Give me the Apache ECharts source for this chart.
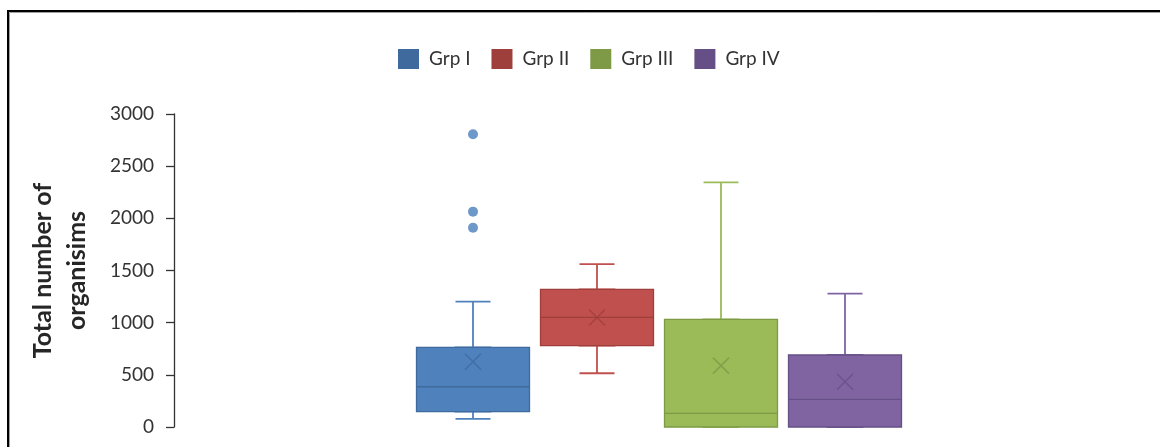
<!DOCTYPE html>
<html><head><meta charset="utf-8">
<script src="https://cdn.jsdelivr.net/npm/echarts@6/dist/echarts.min.js"></script>
<style>html,body{margin:0;padding:0;background:#fff}#c{width:1160px;height:447px}</style>
</head><body><div id="c"></div>
<script>
const categories = ['Grp I', 'Grp II', 'Grp III', 'Grp IV'];
const minVals = [77, 515, 0, 0];
const q1Vals = [147, 779, 0, 0];
const medianVals = [386, 1051, 131, 265];
const q3Vals = [764, 1320, 1032, 690];
const maxVals = [1201, 1562, 2345, 1278];
const meanVals = [626, 1050, 588, 434];
const outlierGroup = [0, 0, 0];
const outlierVals = [2806, 2064, 1910];
const yMin = 0, yMax = 3000, yStep = 500;

const fillColors = ['#4F81BD', '#C0504D', '#9BBB59', '#8064A2'];
const edgeColors = ['#3F6A9E', '#9E3F3C', '#7E9A46', '#664F86'];
const FONT = 'Lato';

const xAxes = [];
for (let k = 0; k < categories.length + 1; k++) {
  xAxes.push({type: 'category', data: categories, gridIndex: 0, show: false, boundaryGap: true});
}

const series = [];
// whiskers (narrow caps), drawn under the boxes
series.push({
  name: 'whiskers', type: 'boxplot', xAxisIndex: 0, z: 2, silent: true,
  boxWidth: [35, 35],
  encode: {x: 0, y: [1, 2, 3, 4, 5]},
  emphasis: {disabled: true},
  data: categories.map((c, i) => ({
    value: [i, minVals[i], q1Vals[i], q1Vals[i], q3Vals[i], maxVals[i]],
    itemStyle: {color: fillColors[i], borderColor: fillColors[i], borderWidth: 1.8}
  }))
});
// boxes, one series per group on its own (hidden) x axis so they are not shifted
categories.forEach((c, i) => {
  series.push({
    name: c, type: 'boxplot', xAxisIndex: i + 1, z: 3, silent: true,
    boxWidth: [113, 113],
    encode: {x: 0, y: [1, 2, 3, 4, 5]},
    emphasis: {disabled: true},
    itemStyle: {color: fillColors[i], borderColor: edgeColors[i], borderWidth: 1.3},
    data: [[i, q1Vals[i], q1Vals[i], medianVals[i], q3Vals[i], q3Vals[i]]]
  });
});
// mean markers
series.push({
  name: 'mean', type: 'scatter', xAxisIndex: 0, z: 5, silent: true,
  symbol: 'path://M0,0L10,10M10,0L0,10', symbolSize: 16,
  data: categories.map((c, i) => ({
    value: [i, meanVals[i]],
    itemStyle: {color: 'rgba(0,0,0,0)', borderColor: edgeColors[i], borderWidth: 1.5}
  }))
});
// outliers
series.push({
  name: 'outliers', type: 'scatter', xAxisIndex: 0, z: 5, silent: true,
  symbol: 'circle', symbolSize: 10,
  itemStyle: {color: '#4A7EBB'},
  data: outlierVals.map((v, k) => [outlierGroup[k], v])
});

const chart = echarts.init(document.getElementById('c'));
chart.setOption({
  animation: false,
  backgroundColor: '#fff',
  textStyle: {fontFamily: FONT},
  graphic: [
    {type: 'rect', z: 100, silent: true, shape: {x: 8, y: 11, width: 1400, height: 700},
     style: {fill: 'none', stroke: '#000', lineWidth: 2}},
    {type: 'rect', z: 100, silent: true, shape: {x: 9.5, y: 12.5, width: 1400, height: 700},
     style: {fill: 'none', stroke: '#a0a0a0', lineWidth: 1}}
  ],
  legend: {
    data: categories, left: 393, top: 44, icon: 'rect',
    itemWidth: 19, itemHeight: 18, itemGap: 21,
    textStyle: {fontSize: 19, color: '#333', fontFamily: FONT, padding: [0, 0, 0, 6]}
  },
  grid: {left: 411, right: 253, top: 114, bottom: 20, containLabel: false, outerBoundsMode: 'none'},
  xAxis: xAxes,
  yAxis: {
    type: 'value', min: yMin, max: yMax, interval: yStep, offset: 237,
    name: 'Total number of\norganisims', nameLocation: 'middle', nameGap: 80,
    nameTextStyle: {fontSize: 25, fontWeight: 'bold', lineHeight: 34, color: '#262626', fontFamily: FONT},
    axisLine: {show: true, lineStyle: {color: '#333', width: 1.3}},
    axisTick: {show: true, length: 8, lineStyle: {color: '#333', width: 1.3}},
    axisLabel: {margin: 20, fontSize: 19, color: '#333', fontFamily: FONT, formatter: v => String(v)},
    splitLine: {show: false}
  },
  series: series
});
</script>
</body></html>
